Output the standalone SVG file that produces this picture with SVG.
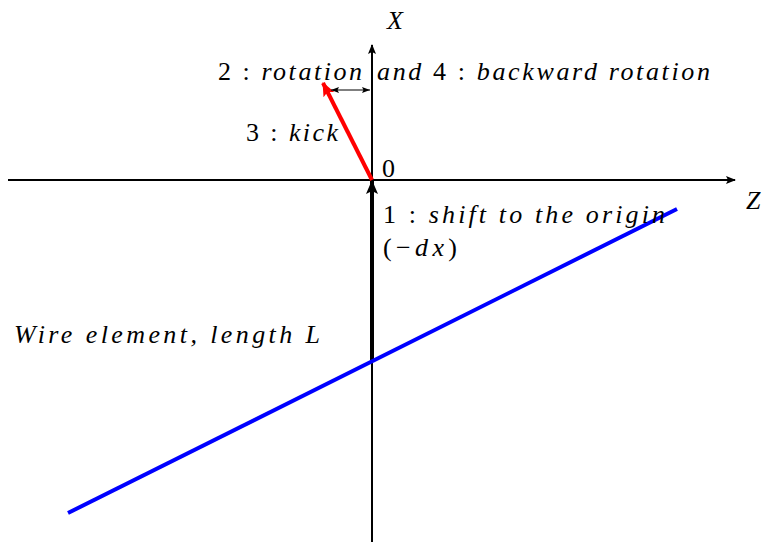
<svg xmlns="http://www.w3.org/2000/svg" width="766" height="542" viewBox="0 0 766 542">
<defs>
<marker id="ah" markerWidth="10" markerHeight="8" refX="9" refY="4" orient="auto" markerUnits="userSpaceOnUse"><path d="M0,0 L10,4 L0,8 L2,4 Z" fill="#000"/></marker>
<marker id="ahs" markerWidth="8" markerHeight="6" refX="8" refY="3" orient="auto-start-reverse" markerUnits="userSpaceOnUse"><path d="M0,0 L8,3 L0,6 L1.5,3 Z" fill="#000"/></marker>
<marker id="ahb" markerWidth="14" markerHeight="12" refX="13" refY="6" orient="auto" markerUnits="userSpaceOnUse"><path d="M0,0 L14,6 L0,12 L3,6 Z" fill="#000"/></marker>
<marker id="ahr" markerWidth="14" markerHeight="12" refX="13" refY="6" orient="auto" markerUnits="userSpaceOnUse"><path d="M0,0 L14,6 L0,12 L3,6 Z" fill="#f00"/></marker>
</defs>
<g id="connectors">
<line x1="8" y1="180" x2="735" y2="180" stroke="#000" stroke-width="2" marker-end="url(#ah)"/>
<line x1="372" y1="542" x2="372" y2="45" stroke="#000" stroke-width="2" marker-end="url(#ah)"/>
<line x1="372" y1="360" x2="372" y2="181" stroke="#000" stroke-width="4" marker-end="url(#ahb)"/>
<line x1="372" y1="180" x2="323" y2="83" stroke="#f00" stroke-width="4" marker-end="url(#ahr)"/>
<line x1="331" y1="90" x2="370" y2="90" stroke="#000" stroke-width="1.2" marker-start="url(#ahs)" marker-end="url(#ahs)"/>
</g>
<g id="wire"><line x1="68" y1="513" x2="677" y2="209" stroke="#00f" stroke-width="4"/></g>
<g id="labels" fill="#000">
<text x="387" y="29" font-family="Liberation Serif" font-size="26" font-style="italic">X</text>
<text x="746" y="209" font-family="Liberation Serif" font-size="26" font-style="italic">Z</text>
<text x="382" y="177" font-family="Liberation Serif" font-size="26">0</text>
<text x="218" y="80" font-family="Liberation Serif" font-size="26" textLength="144" lengthAdjust="spacing">2 : <tspan font-style="italic">rotation</tspan></text>
<text x="377" y="80" font-family="Liberation Serif" font-size="26" textLength="333" lengthAdjust="spacing"><tspan font-style="italic">and</tspan> 4 : <tspan font-style="italic">backward rotation</tspan></text>
<text x="246" y="141" font-family="Liberation Serif" font-size="26" textLength="92" lengthAdjust="spacing">3 : <tspan font-style="italic">kick</tspan></text>
<text x="383" y="223" font-family="Liberation Serif" font-size="26" textLength="282" lengthAdjust="spacing">1 : <tspan font-style="italic">shift to the origin</tspan></text>
<text x="383" y="256" font-family="Liberation Serif" font-size="26" textLength="74" lengthAdjust="spacing">(−<tspan font-style="italic">dx</tspan>)</text>
<text x="14" y="343" font-family="Liberation Serif" font-size="26" font-style="italic" textLength="306" lengthAdjust="spacing">Wire element, length L</text>
</g>
</svg>
